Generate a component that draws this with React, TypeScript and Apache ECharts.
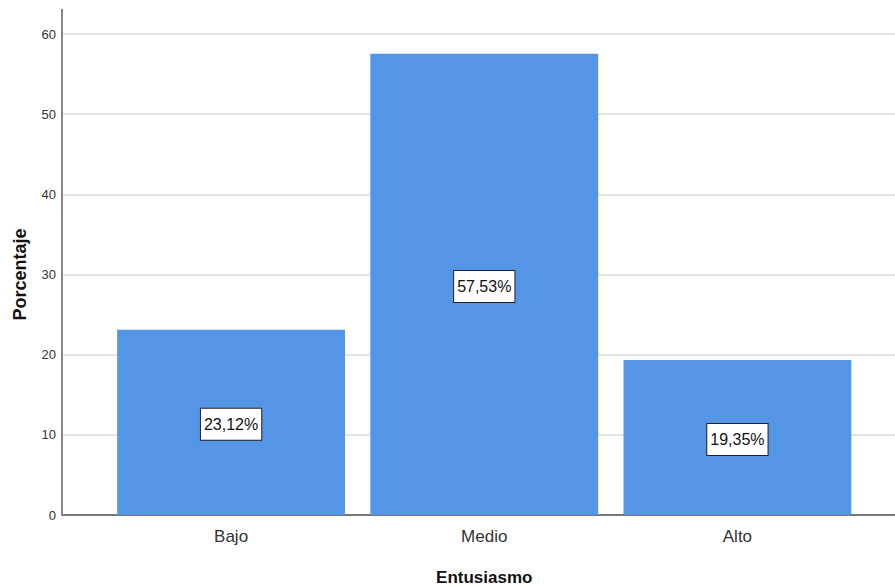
import React, { useEffect, useRef } from "react";
import * as echarts from "echarts";

const categories = ["Bajo", "Medio", "Alto"];
const percentages = [23.12, 57.53, 19.35];
const yTicks = [0, 10, 20, 30, 40, 50, 60];

export default function App() {
  const ref = useRef<HTMLDivElement>(null);
  useEffect(() => {
    const chart = echarts.init(ref.current!, null, { renderer: "svg" });
    const font = "Liberation Sans, Arial, sans-serif";
    chart.setOption({
      animation: false,
      backgroundColor: "#ffffff",
      grid: [
        { left: 62, right: 0, top: 34, bottom: 71, containLabel: false, outerBoundsMode: "none" },
        { left: 104.5, right: 31, top: 34, bottom: 71, containLabel: false, outerBoundsMode: "none" },
      ],
      xAxis: [
        {
          type: "category",
          gridIndex: 0,
          data: [""],
          axisLine: { show: true, lineStyle: { color: "#777777", width: 2 } },
          axisTick: { show: false },
          axisLabel: { show: false },
          splitLine: { show: false },
        },
        {
          type: "category",
          gridIndex: 1,
          data: categories,
          axisLine: { show: false },
          axisTick: { show: false },
          axisLabel: { color: "#333333", fontSize: 17, fontFamily: font, margin: 13 },
          name: "Entusiasmo",
          nameLocation: "middle",
          nameGap: 54,
          nameTextStyle: { color: "#111111", fontSize: 17, fontWeight: "bold", fontFamily: font },
        },
      ],
      yAxis: [
        {
          type: "value",
          gridIndex: 0,
          min: yTicks[0],
          max: yTicks[yTicks.length - 1],
          interval: 10,
          axisLine: { show: false },
          axisTick: { show: false },
          axisLabel: { color: "#333333", fontSize: 13, fontFamily: font, margin: 6 },
          splitLine: { show: true, lineStyle: { color: "#dadada", width: 1.5 } },
          name: "Porcentaje",
          nameLocation: "middle",
          nameGap: 33,
          nameRotate: 90,
          nameTextStyle: { color: "#111111", fontSize: 18, fontWeight: "bold", fontFamily: font },
        },
        {
          type: "value",
          gridIndex: 1,
          min: yTicks[0],
          max: yTicks[yTicks.length - 1],
          interval: 10,
          show: false,
        },
      ],
      series: [
        {
          type: "bar",
          xAxisIndex: 1,
          yAxisIndex: 1,
          data: percentages,
          barCategoryGap: "10%",
          itemStyle: { color: "#5595e6" },
          label: {
            show: true,
            position: "inside",
            offset: [0, 2],
            formatter: (p: any) => p.value.toFixed(2).replace(".", ",") + "%",
            color: "#111111",
            fontSize: 16,
            lineHeight: 18,
            fontFamily: font,
            backgroundColor: "#ffffff",
            borderColor: "#222222",
            borderWidth: 1,
            padding: [7, 3, 6, 3],
          },
        },
      ],
      graphic: [
        {
          type: "line",
          shape: { x1: 62, y1: 9, x2: 62, y2: 515 },
          style: { stroke: "#888888", lineWidth: 2 },
          z: 10,
        },
      ],
    });
    return () => chart.dispose();
  }, []);
  return <div ref={ref} style={{ width: 895, height: 586, position: "absolute", left: 0, top: 0 }} />;
}
